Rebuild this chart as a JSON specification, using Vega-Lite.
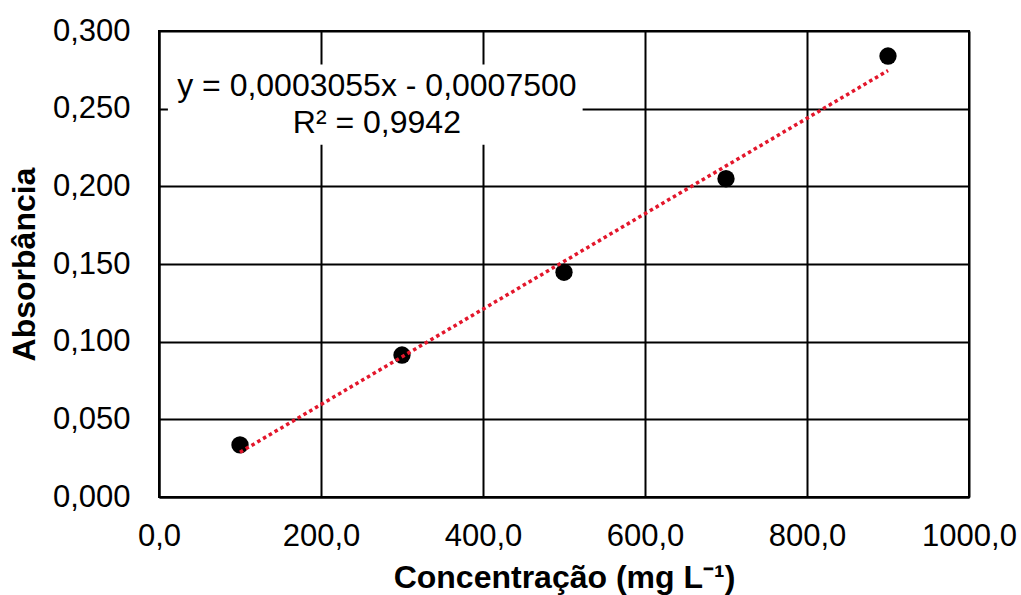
{
  "$schema": "https://vega.github.io/schema/vega-lite/v6.json",
  "width": 810,
  "height": 466,
  "autosize": {"type": "none"},
  "padding": {"left": 159, "top": 31, "right": 52, "bottom": 98},
  "background": "white",
  "config": {
    "locale": {"number": {"decimal": ",", "thousands": ".", "grouping": [3], "currency": ["R$", ""]}},
    "font": "Liberation Sans",
    "view": {"stroke": "black", "strokeWidth": 2},
    "axis": {
      "labelFont": "Liberation Sans",
      "titleFont": "Liberation Sans",
      "labelFontSize": 31,
      "titleFontSize": 32,
      "titleFontWeight": "bold",
      "labelColor": "#000000",
      "titleColor": "#000000",
      "gridColor": "#000000",
      "gridWidth": 2,
      "gridOpacity": 1,
      "domainColor": "#000000",
      "domainWidth": 2,
      "ticks": false
    }
  },
  "datasets": {
    "points": [
      {"conc": 100, "abs": 0.0335},
      {"conc": 300, "abs": 0.0914},
      {"conc": 500, "abs": 0.1447},
      {"conc": 700, "abs": 0.2049},
      {"conc": 900, "abs": 0.2839}
    ],
    "box": [{"x1": 11, "x2": 523, "y1": 0.2268, "y2": 0.2785}],
    "labels": [
      {"conc": 269, "abs": 0.2646, "text": "y = 0,0003055x - 0,0007500"},
      {"conc": 269, "abs": 0.2408, "text": "R² = 0,9942"}
    ]
  },
  "layer": [
    {
      "data": {"name": "points"},
      "mark": {"type": "point", "opacity": 0},
      "encoding": {
        "x": {
          "field": "conc", "type": "quantitative",
          "scale": {"domain": [0, 1000], "nice": false, "zero": true},
          "axis": {
            "values": [0, 200, 400, 600, 800, 1000],
            "format": ".1f",
            "grid": true,
            "labelPadding": 39,
            "labelBaseline": "middle",
            "labelFlush": false,
            "title": "Concentração (mg L⁻¹)",
            "titleX": 405,
            "titleY": 80,
            "titleBaseline": "middle",
            "titleAlign": "center"
          }
        },
        "y": {
          "field": "abs", "type": "quantitative",
          "scale": {"domain": [0, 0.3], "nice": false},
          "axis": {
            "values": [0, 0.05, 0.1, 0.15, 0.2, 0.25, 0.3],
            "format": ".3f",
            "grid": true,
            "labelPadding": 29,
            "labelFlush": false,
            "title": "Absorbância",
            "titleX": -135,
            "titleY": 233,
            "titleAngle": -90,
            "titleBaseline": "middle",
            "titleAlign": "center"
          }
        }
      }
    },
    {
      "data": {"name": "box"},
      "mark": {"type": "rect", "fill": "white", "stroke": null},
      "encoding": {
        "x": {"field": "x1", "type": "quantitative"},
        "x2": {"field": "x2"},
        "y": {"field": "y1", "type": "quantitative"},
        "y2": {"field": "y2"}
      }
    },
    {
      "data": {"name": "points"},
      "mark": {"type": "circle", "color": "black", "opacity": 1, "size": 300},
      "encoding": {
        "x": {"field": "conc", "type": "quantitative"},
        "y": {"field": "abs", "type": "quantitative"}
      }
    },
    {
      "data": {"name": "points"},
      "transform": [{"regression": "abs", "on": "conc", "extent": [100, 900]}],
      "mark": {"type": "line", "color": "#E3162B", "strokeWidth": 3.5, "strokeDash": [3.5, 3.2]},
      "encoding": {
        "x": {"field": "conc", "type": "quantitative"},
        "y": {"field": "abs", "type": "quantitative"}
      }
    },
    {
      "data": {"name": "labels"},
      "mark": {"type": "text", "font": "Liberation Sans", "fontSize": 32, "color": "black", "align": "center", "baseline": "middle"},
      "encoding": {
        "x": {"field": "conc", "type": "quantitative"},
        "y": {"field": "abs", "type": "quantitative"},
        "text": {"field": "text"}
      }
    }
  ]
}
